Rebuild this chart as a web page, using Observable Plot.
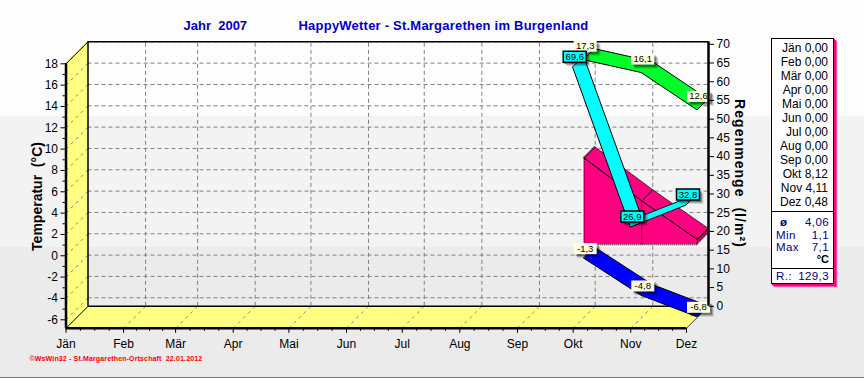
<!DOCTYPE html>
<html><head><meta charset="utf-8">
<script src="https://cdn.jsdelivr.net/npm/d3@7"></script>
<script src="https://cdn.jsdelivr.net/npm/@observablehq/plot@0.6"></script>
<style>
html,body{margin:0;padding:0;background:#ebebeb}
#wrap{position:relative;width:864px;height:378px;overflow:hidden;font-family:"Liberation Sans",Arial,sans-serif}
#panel{position:absolute;left:771px;top:38px;width:61px;height:244px;border:1px solid #000;background:#fff;box-shadow:1px 1px 0 #ff0080,2px 2px 0 #ff0080,3px 3px 1px #ff4da6;box-sizing:content-box;font-size:12px;color:#000}
#panel .row{position:absolute;right:5px;height:14px;line-height:14px;white-space:nowrap}
#panel .sep{position:absolute;left:0;right:0;height:1px;background:#000}
#panel .stat{position:absolute;left:4px;right:4px;height:13px;line-height:13px;color:#000080;display:flex;justify-content:space-between;letter-spacing:.4px;font-size:11.5px}
#edge{position:absolute;left:0;top:377px;width:864px;height:1px;background:#707070}
</style></head><body><div id="wrap"><div id="chart"></div><div id="panel"></div><div id="edge"></div></div>
<script>
const monthNames = ["Jän","Feb","Mär","Apr","Mai","Jun","Jul","Aug","Sep","Okt","Nov","Dez"];
const panelMeans = ["0,00","0,00","0,00","0,00","0,00","0,00","0,00","0,00","0,00","8,12","4,11","0,48"];
const dataMonthIndex = [9, 10, 11];
const tempMax = [17.3, 16.1, 12.6];
const tempMin = [-1.3, -4.8, -6.8];
const tempMean = [8.12, 4.11, 0.48];
const rain = [69.6, 26.9, 32.8];
const tempTicks = [-6,-4,-2,0,2,4,6,8,10,12,14,16,18];
const tempMinorTicks = [-5,-3,-1,1,3,5,7,9,11,13,15,17];
const rainTicks = [0,5,10,15,20,25,30,35,40,45,50,55,60,65,70];
const stats = [["ø","4,06"],["Min","1,1"],["Max","7,1"]];
const rainTotal = "129,3";
const titleMain = "HappyWetter - St.Margarethen im Burgenland";
const titleRain = "Regenmenge\u00a0\u00a0(l/m²)";
const footer = "©WsWin32 - St.Margarethen-Ortschaft\u00a0\u00a022.01.2012";

const mL = 65.5, mR = 178, mT = 63.3, mB = 50.2, W = 864, H = 378;
const yMin = -6.8, yMax = 18;
const day = 864e5;
const monthDates = monthNames.map((_, i) => new Date(Date.UTC(2007, i, 1)));
const x0 = monthDates[0], x1 = monthDates[11];
const pxPerDay = (W - mL - mR) / ((x1 - x0) / day);
const pxPerDeg = (H - mT - mB) / (yMax - yMin);
const shiftX = (d, px) => new Date(+d + px / pxPerDay * day);
const shiftY = (v, px) => v + px / pxPerDeg;
const rainToY = d3.scaleLinear().domain([0, 70]).range([yMin, yMin + 262 / pxPerDeg]);
const fmt = v => v.toFixed(1).replace(".", ",");

const rows = dataMonthIndex.map((m, i) => ({
  date: monthDates[m], max: tempMax[i], min: tempMin[i], mean: tempMean[i], rain: rain[i], rainY: rainToY(rain[i])
}));

const D = 22, H1 = 11;
const minorDates = [];
for (let i = 0; i < 11; i++) for (let q = 1; q < 4; q++)
  minorDates.push(new Date(+monthDates[i] + (monthDates[i+1] - monthDates[i]) * q / 4));

function ribbon(key, fill, near) {
  return Plot.area(rows, {
    x1: d => d.date, y1: d => d[key],
    x2: d => shiftX(d.date, H1), y2: d => shiftY(d[key], H1),
    dx: near, dy: -near, fill, stroke: "#000", strokeWidth: 1
  });
}
const boxSymbol = (w, h) => ({draw(c){ c.rect(-w/2, -h/2, w, h); }});
function labelMarks(key, textKey, fill, stroke, dx, dy) {
  const sym = boxSymbol(23, 11);
  const o = {x: d => d.date, y: d => d[key], r: 5, symbol: sym};
  return [
    Plot.dot(rows, {...o, dx: dx + 4, dy: dy + 4, fill: "#000", fillOpacity: 0.12, stroke: null}),
    Plot.dot(rows, {...o, dx: dx + 3, dy: dy + 3, fill: "#000", fillOpacity: 0.2, stroke: null}),
    Plot.dot(rows, {...o, dx: dx + 2, dy: dy + 2, fill: "#000", fillOpacity: 0.3, stroke: null}),
    Plot.dot(rows, {...o, dx, dy, fill, stroke}),
    Plot.text(rows, {x: d => d.date, y: d => d[key], text: d => fmt(d[textKey]), dx, dy, fontSize: 9.5, fill: "#000", fontFamily: "Liberation Sans"})
  ];
}
function at(text, px, py, opts = {}) {
  return Plot.text([text], {text: d => d, frameAnchor: "top-left", dx: px - mL, dy: py - mT, lineAnchor: "middle", textAnchor: "start", ...opts});
}
const one = [0];
const gray = "#808080";
const chart = Plot.plot({
  width: W, height: H, marginLeft: mL, marginRight: mR, marginTop: mT, marginBottom: mB,
  x: {type: "utc", domain: [x0, x1], axis: null},
  y: {domain: [yMin, yMax], axis: null},
  style: {
    background: "linear-gradient(to bottom,#fdfdfd 0,#fdfdfd 116px,#f3f3f3 116px,#f3f3f3 247px,#ebebeb 247px,#ebebeb 100%)",
    fontFamily: "Liberation Sans", fontSize: "12px", color: "#000", overflow: "visible"
  },
  marks: [
    // walls
    Plot.area([yMin, yMax], {x1: () => x0, y1: d => d, x2: () => shiftX(x0, D), y2: d => shiftY(d, D), fill: "#ffff80"}),
    Plot.area([x0, x1], {x1: d => d, y1: () => yMin, x2: d => shiftX(d, D), y2: () => shiftY(yMin, D), fill: "#ffff80"}),
    // back wall grid
    Plot.ruleY(tempTicks, {x1: () => x0, x2: () => x1, dx: D, dy: -D, stroke: gray, strokeDasharray: "4,3"}),
    Plot.ruleX(monthDates.slice(1, 11), {y1: () => yMin, y2: () => yMax, dx: D, dy: -D, stroke: gray, strokeDasharray: "4,3"}),
    // grid diagonals on walls
    Plot.link(tempTicks, {x1: () => x0, y1: d => d, x2: () => shiftX(x0, D), y2: d => shiftY(d, D), stroke: gray, strokeDasharray: "3,4"}),
    Plot.link(monthDates.slice(1, 11), {x1: d => d, y1: () => yMin, x2: d => shiftX(d, D), y2: () => shiftY(yMin, D), stroke: gray, strokeDasharray: "3,4"}),
    // box edges
    Plot.ruleX(one, {x: () => x0, y1: () => yMin, y2: () => yMax, dx: D, dy: -D, stroke: "#000", strokeWidth: 1.5}),
    Plot.ruleY(one, {y: () => yMin, x1: () => x0, x2: () => x1, dx: D, dy: -D, stroke: "#000", strokeWidth: 1.5}),
    Plot.ruleY(one, {y: () => yMax, x1: () => x0, x2: () => x1, dx: D, dy: -D, stroke: "#000", strokeWidth: 1.5}),
    Plot.link(one, {x1: () => x0, y1: () => yMin, x2: () => shiftX(x0, D), y2: () => shiftY(yMin, D), stroke: "#000"}),
    Plot.link(one, {x1: () => x0, y1: () => yMax, x2: () => shiftX(x0, D), y2: () => shiftY(yMax, D), stroke: "#000"}),
    Plot.link(one, {x1: () => x1, y1: () => yMin, x2: () => shiftX(x1, D), y2: () => shiftY(yMin, D), stroke: "#000", strokeOpacity: .7}),
    // pink area
    Plot.areaY(rows, {x: d => d.date, y1: () => 0, y2: d => d.mean, dx: H1, dy: -H1, fill: "#ff0080"}),
    Plot.area(rows, {x1: d => d.date, y1: d => d.mean, x2: d => shiftX(d.date, H1), y2: d => shiftY(d.mean, H1), dx: H1, dy: -H1, fill: "#ff0080", stroke: "#000", strokeWidth: .7}),
    Plot.area(rows.slice(-1).flatMap(d => [{v: 0, date: d.date}, {v: d.mean, date: d.date}]), {x1: d => d.date, y1: d => d.v, x2: d => shiftX(d.date, H1), y2: d => shiftY(d.v, H1), dx: H1, dy: -H1, fill: "#c00060", stroke: "#000", strokeWidth: .5, strokeDasharray: "1,1"}),
    Plot.line(rows, {x: d => d.date, y: d => d.mean, dx: H1, dy: -H1, stroke: "#000", strokeWidth: .8}),
    Plot.link(rows, {x1: d => d.date, y1: d => d.mean, x2: d => shiftX(d.date, H1), y2: d => shiftY(d.mean, H1), dx: H1, dy: -H1, stroke: "#000", strokeWidth: .8}),
    Plot.ruleX(rows, {x: d => d.date, y1: () => 0, y2: d => d.mean, dx: H1, dy: -H1, stroke: "#000", strokeDasharray: "1,1"}),
    Plot.ruleY(one, {y: () => 0, x1: () => rows[0].date, x2: () => rows[2].date, dx: H1, dy: -H1, stroke: "#000", strokeDasharray: "1,1"}),
    // temperature ribbons
    ribbon("min", "#0000ff", H1),
    ribbon("max", "#00ff2a", H1),
    // rain ribbon
    Plot.area(rows, {x1: d => d.date, y1: d => d.rainY, x2: d => shiftX(d.date, H1), y2: d => shiftY(d.rainY, H1), fill: "#00ffff", stroke: "#000"}),
    // value labels
    ...labelMarks("max", "max", "#ffffe0", null, 12, -25),
    ...labelMarks("min", "min", "#ffffe0", null, 12, -21),
    ...labelMarks("rainY", "rain", "#00ffff", "#000", 1.5, -11),
    // axes
    Plot.axisY(tempMinorTicks, {anchor: "left", tickSize: 3, tickFormat: () => "", label: null, stroke: "#000"}),
    Plot.axisY(tempTicks, {anchor: "left", tickSize: 5, tickPadding: 3, tickFormat: d => String(d), label: null, fontSize: 12, fontFamily: "Liberation Sans", stroke: "#000"}),
    Plot.axisY(rainTicks.map(rainToY), {anchor: "right", dx: D, dy: -D, tickSize: 5, tickPadding: 3, tickFormat: d => String(Math.round(rainToY.invert(d))), label: null, fontSize: 12, fontFamily: "Liberation Sans", stroke: "#000"}),
    Plot.axisX(minorDates, {anchor: "bottom", tickSize: 3, tickFormat: () => "", label: null, stroke: "#000"}),
    Plot.axisX(monthDates, {anchor: "bottom", tickSize: 5, tickPadding: 6, tickFormat: (d, i) => monthNames[d.getUTCMonth()], label: null, fontSize: 12, fontFamily: "Liberation Sans", stroke: "#000"}),
    Plot.ruleX(one, {x: () => x0, y1: () => yMin, y2: () => yMax, stroke: "#000", strokeWidth: 2.5}),
    Plot.ruleY(one, {y: () => yMin, x1: () => x0, x2: () => x1, stroke: "#000", strokeWidth: 2.5}),
    Plot.ruleX(one, {x: () => x1, y1: () => yMin, y2: () => yMax, dx: D, dy: -D, stroke: "#000", strokeWidth: 2.5}),
    // titles
    at("Jahr\u00a0\u00a02007", 183, 25, {fill: "#0000cc", fontWeight: "bold", fontSize: 13}),
    at(titleMain, 298, 25, {fill: "#0000cc", fontWeight: "bold", fontSize: 13}),
    at("Temperatur\u00a0\u00a0(°C)", 37, 196, {rotate: -90, textAnchor: "middle", fontWeight: "bold", fontSize: 14, fill: "#000"}),
    at(titleRain, 739, 173, {rotate: 90, textAnchor: "middle", fontWeight: "bold", fontSize: 14, fill: "#000"}),
    at(footer, 29, 358, {fill: "#ff0000", fontWeight: "bold", fontSize: 7, fontFamily: "Liberation Sans"})
  ]
});
const spacing = new Map([[titleMain, "0.22px"], [titleRain, "1.05px"], [footer, "0.15px"]]);
chart.querySelectorAll("text").forEach(t => {
  const s = spacing.get(t.textContent);
  if (s) t.style.letterSpacing = s;
});
document.getElementById("chart").appendChild(chart);

const panel = document.getElementById("panel");
let html = "";
monthNames.forEach((m, i) => { html += `<div class="row" style="top:${2 + i * 14}px">${m} ${panelMeans[i]}</div>`; });
html += `<div class="sep" style="top:172px"></div>`;
stats.forEach((s, i) => { html += `<div class="stat" style="top:${177 + i * 12.5}px"><span${i === 0 ? ' style="padding-left:4px;font-weight:bold"' : ''}>${s[0]}</span><span>${s[1]}</span></div>`; });
html += `<div class="row" style="top:213px;right:4px;font-weight:bold;font-size:11px">°C</div>`;
html += `<div class="sep" style="top:229px"></div>`;
html += `<div class="stat" style="top:231px"><span>R.:</span><span>${rainTotal}</span></div>`;
panel.innerHTML = html;
</script></body></html>
